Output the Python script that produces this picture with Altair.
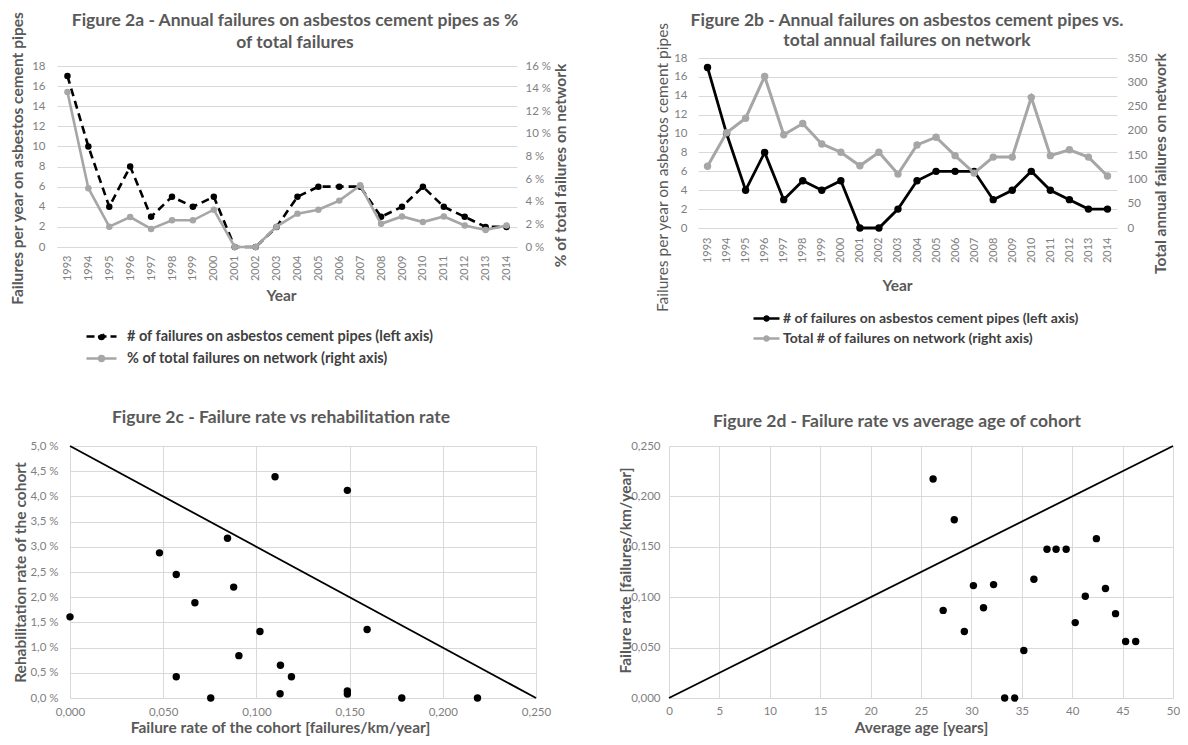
import altair as alt
import pandas as pd

FONT = "Lato"

# ---------------- data ----------------
years = ["1993", "1994", "1995", "1996", "1997", "1998", "1999", "2000", "2001", "2002", "2003",
         "2004", "2005", "2006", "2007", "2008", "2009", "2010", "2011", "2012", "2013", "2014"]
ac_failures = [17, 10, 4, 8, 3, 5, 4, 5, 0, 0, 2, 5, 6, 6, 6, 3, 4, 6, 4, 3, 2, 2]
pct_of_total = [13.7, 5.2, 1.8, 2.65, 1.6, 2.36, 2.36, 3.3, 0, 0, 1.8, 2.95, 3.3, 4.1, 5.45,
                2.05, 2.7, 2.2, 2.7, 1.9, 1.5, 1.9]
total_failures = [127, 196, 226, 312, 192, 215, 173, 156, 128, 156, 111, 171, 187, 149, 113,
                  146, 146, 269, 149, 161, 146, 107]

c_failure_rate = [0.000, 0.048, 0.057, 0.057, 0.067, 0.0755, 0.0845, 0.0878, 0.0906, 0.1019,
                  0.110, 0.1127, 0.1129, 0.1188, 0.1488, 0.1488, 0.1488, 0.1594, 0.178, 0.2186]
c_rehab_rate = [1.61, 2.88, 2.45, 0.42, 1.89, 0.0, 3.17, 2.20, 0.84, 1.32,
                4.39, 0.085, 0.65, 0.42, 4.12, 0.14, 0.08, 1.36, 0.0, 0.0]
c_ref_x = [0.0, 0.25]
c_ref_y = [5.0, 0.0]

d_age = [26.2, 27.2, 28.3, 29.3, 30.2, 31.2, 32.2, 33.3, 34.3, 35.2, 36.2, 37.5, 38.4, 39.4,
         40.3, 41.3, 42.4, 43.3, 44.3, 45.3, 46.3]
d_failure_rate = [0.2172, 0.0869, 0.1768, 0.0659, 0.1115, 0.0896, 0.1125, 0.0, 0.0, 0.0472,
                  0.1178, 0.1476, 0.1476, 0.1476, 0.0748, 0.1010, 0.1581, 0.1086, 0.0837,
                  0.0561, 0.0561]
d_ref_x = [0, 50]
d_ref_y = [0.0, 0.25]

a_left_ticks = [0, 2, 4, 6, 8, 10, 12, 14, 16, 18]
a_right_ticks = [0, 2, 4, 6, 8, 10, 12, 14, 16]
b_right_ticks = [0, 50, 100, 150, 200, 250, 300, 350]
c_x_ticks = [0, 0.05, 0.1, 0.15, 0.2, 0.25]
c_y_ticks = [0, 0.5, 1, 1.5, 2, 2.5, 3, 3.5, 4, 4.5, 5]
d_x_ticks = [0, 5, 10, 15, 20, 25, 30, 35, 40, 45, 50]
d_y_ticks = [0, 0.05, 0.1, 0.15, 0.2, 0.25]

A1 = "# of failures on asbestos cement pipes (left axis)"
A2 = "% of total failures on network (right axis)"
B1 = "# of failures on asbestos cement pipes (left axis) "
B2 = "Total # of failures on network (right axis)"

# ---------------- layout (chart coordinates) ----------------
W, H = 1172, 729
GRID = "#d9d9d9"
LAB = "#7f7f7f"
TIT = "#595959"
GRAY = "#a6a6a6"
TITLE_SIZE = 17.5
AXT_SIZE = 15.5

AX = dict(labelFont=FONT, labelFontSize=11.5, labelColor=LAB, titleFont=FONT,
          titleFontSize=AXT_SIZE, titleColor=TIT, titleFontWeight="bold", ticks=False,
          tickSize=0, domain=False, gridColor=GRID, gridWidth=1, titleAlign="center",
          titleBaseline="middle")

SYM = "M-1,0L1,0M0.16,0A0.16,0.16,0,1,1,-0.16,0A0.16,0.16,0,1,1,0.16,0Z"


def legend(x, y, size, offset, fsize, dash=None):
    kw = dict(orient="none", legendX=x, legendY=y, padding=0, symbolType=SYM, symbolSize=size,
              symbolStrokeWidth=2.5, labelFont=FONT, labelFontSize=fsize, labelFontWeight="bold",
              labelColor="#404040", labelOffset=offset, labelLimit=700)
    if dash:
        kw["symbolDash"] = dash
    return alt.Legend(**kw)


def text(txt, x, y, size=TITLE_SIZE, weight="bold", color=TIT):
    return alt.Chart(pd.DataFrame({"t": [txt]})).mark_text(
        font=FONT, fontSize=size, fontWeight=weight, color=color, align="center", baseline="middle"
    ).encode(x=alt.value(x), y=alt.value(y), text="t:N")


def year_axis(offset, pad, tx, ty):
    kw = {k: v for k, v in AX.items() if k not in ("labelFontSize", "domain")}
    return alt.Axis(orient="bottom", offset=offset, labelAngle=270, labelAlign="right",
                    labelBaseline="middle", labelPadding=pad, labelFontSize=11, title="Year",
                    titleX=tx, titleY=ty, grid=False, domain=True, domainColor=GRID, **kw)


def grid_axis(values):
    # top-oriented axis used only for its vertical gridlines
    return alt.Axis(orient="top", values=values, labels=False, ticks=False, tickSize=0,
                    domain=False, grid=True, gridColor=GRID, gridWidth=1)


# ---------------- Figure 2a ----------------
df_a = pd.DataFrame({"year": years, "ac": ac_failures, "pct": pct_of_total, "s1": A1, "s2": A2})
xa_scale = alt.Scale(type="point", range=[49, 509], padding=0.5)

a1 = alt.Chart(df_a).mark_line(strokeWidth=2.6, strokeDash=[8, 5],
                               point=alt.OverlayMarkDef(filled=True, size=42)).encode(
    x=alt.X("year:O", scale=xa_scale, axis=year_axis(-490, 8, 273, 48)),
    y=alt.Y("ac:Q", scale=alt.Scale(domain=[0, 18], range=[239, 58], nice=False), axis=alt.Axis(
        orient="left", offset=-49, values=a_left_ticks, grid=True, labelPadding=12,
        title="Failures per year on asbestos cement pipes", titleX=-40, titleY=150, titleAngle=270,
        **AX)),
    color=alt.Color("s1:N", scale=alt.Scale(domain=[A1], range=["#000000"]), title=None,
                    legend=legend(77, 312, 900, 9, 14.5, dash=[8, 4])),
)

a2 = alt.Chart(df_a).mark_line(strokeWidth=2.6, point=alt.OverlayMarkDef(filled=True, size=42)).encode(
    x=alt.X("year:O", scale=xa_scale, axis=None),
    y=alt.Y("pct:Q", scale=alt.Scale(domain=[0, 16], range=[239, 58], nice=False), axis=alt.Axis(
        orient="right", offset=-663, values=a_right_ticks, grid=False, labelPadding=8,
        labelExpr="datum.value + ' %'",
        title="% of total failures on network", titleX=43, titleY=157, titleAngle=270, **AX)),
    color=alt.Color("s2:N", scale=alt.Scale(domain=[A2], range=[GRAY]), title=None,
                    legend=legend(77, 334, 900, 9, 14.5)),
)

# ---------------- Figure 2b ----------------
df_b = pd.DataFrame({"year": years, "ac": ac_failures, "tot": total_failures, "s1": B1, "s2": B2})
xb_scale = alt.Scale(type="point", range=[690, 1109], padding=0.5)

AXB = dict(AX)
AXB["titleFontWeight"] = "normal"

b1 = alt.Chart(df_b).mark_line(strokeWidth=2.8, point=alt.OverlayMarkDef(filled=True, size=55)).encode(
    x=alt.X("year:O", scale=xb_scale, axis=year_axis(-509, 9, 889, 57)),
    y=alt.Y("ac:Q", scale=alt.Scale(domain=[0, 18], range=[220, 50], nice=False), axis=alt.Axis(
        orient="left", offset=-690, values=a_left_ticks, grid=True, labelPadding=11,
        title="Failures per year on asbestos cement pipes", titleX=-36, titleY=159, titleAngle=270,
        **AXB)),
    color=alt.Color("s1:N", scale=alt.Scale(domain=[B1], range=["#000000"]), title=None,
                    legend=legend(744, 296, 676, 2, 14)),
)

b2 = alt.Chart(df_b).mark_line(strokeWidth=3, point=alt.OverlayMarkDef(filled=True, size=55)).encode(
    x=alt.X("year:O", scale=xb_scale, axis=None),
    y=alt.Y("tot:Q", scale=alt.Scale(domain=[0, 350], range=[220, 50], nice=False), axis=alt.Axis(
        orient="right", offset=-63, values=b_right_ticks, grid=False, labelPadding=10,
        title="Total annual failures on network", titleX=43, titleY=155, titleAngle=270, **AX)),
    color=alt.Color("s2:N", scale=alt.Scale(domain=[B2], range=[GRAY]), title=None,
                    legend=legend(744, 316, 676, 2, 14)),
)

# ---------------- Figure 2c ----------------
xc_scale = alt.Scale(domain=[0, 0.25], range=[62, 528], nice=False)
yc_scale = alt.Scale(domain=[0, 5], range=[690, 438], nice=False)
c_line = alt.Chart(pd.DataFrame({"x": c_ref_x, "y": c_ref_y})).mark_line(
    color="#000000", strokeWidth=1.8).encode(
    x=alt.X("x:Q", scale=xc_scale, axis=alt.Axis(
        orient="bottom", offset=-39, values=c_x_ticks, grid=False, labelPadding=8, labelFlush=False,
        labelExpr="replace(format(datum.value, '.3f'), '.', ',')",
        title="Failure rate of the cohort [failures/km/year]", titleX=272, titleY=29, **AX)),
    y=alt.Y("y:Q", scale=yc_scale, axis=alt.Axis(
        orient="left", offset=-62, values=c_y_ticks, grid=True, labelPadding=12,
        labelExpr="replace(format(datum.value, '.1f'), '.', ',') + ' %'",
        title="Rehabilitation rate of the cohort", titleX=-50, titleY=564, titleAngle=270, **AX)),
)
c_pts = alt.Chart(pd.DataFrame({"x": c_failure_rate, "y": c_rehab_rate})).mark_circle(
    color="#000000", size=55, opacity=1).encode(
    x=alt.X("x:Q", scale=xc_scale, axis=grid_axis(c_x_ticks), title=None),
    y=alt.Y("y:Q", scale=yc_scale, axis=None),
)

# ---------------- Figure 2d ----------------
xd_scale = alt.Scale(domain=[0, 50], range=[661, 1165], nice=False)
yd_scale = alt.Scale(domain=[0, 0.25], range=[690, 438], nice=False)
d_line = alt.Chart(pd.DataFrame({"x": d_ref_x, "y": d_ref_y})).mark_line(
    color="#000000", strokeWidth=1.8).encode(
    x=alt.X("x:Q", scale=xd_scale, axis=alt.Axis(
        orient="bottom", offset=-39, values=d_x_ticks, grid=False, labelPadding=7, labelFlush=False,
        title="Average age [years]", titleX=913, titleY=29, **AX)),
    y=alt.Y("y:Q", scale=yd_scale, axis=alt.Axis(
        orient="left", offset=-661, values=d_y_ticks, grid=True, labelPadding=9,
        labelExpr="replace(format(datum.value, '.3f'), '.', ',')",
        title="Failure rate [failures/km/year]", titleX=-44, titleY=562, titleAngle=270, **AX)),
)
d_pts = alt.Chart(pd.DataFrame({"x": d_age, "y": d_failure_rate})).mark_circle(
    color="#000000", size=55, opacity=1).encode(
    x=alt.X("x:Q", scale=xd_scale, axis=grid_axis(d_x_ticks), title=None),
    y=alt.Y("y:Q", scale=yd_scale, axis=None),
)

titles = [
    text("Figure 2a - Annual failures on asbestos cement pipes as %", 287, 13),
    text("of total failures", 287, 35),
    text("Figure 2b - Annual failures on asbestos cement pipes vs.", 899, 13),
    text("total annual failures on network", 899, 33),
    text("Figure 2c - Failure rate vs rehabilitation rate", 273, 410),
    text("Figure 2d - Failure rate vs average age of cohort", 889, 414),
]

chart = alt.layer(
    a1, a2, b1, b2, c_line, c_pts, d_line, d_pts, *titles
).resolve_scale(
    x="independent", y="independent", color="independent"
).properties(
    width=W, height=H, padding=0, autosize=alt.AutoSizeParams(type="none"),
    background="#ffffff",
).configure_view(stroke="transparent")

chart.save("out.html", embed_options={"renderer": "svg", "actions": False})
